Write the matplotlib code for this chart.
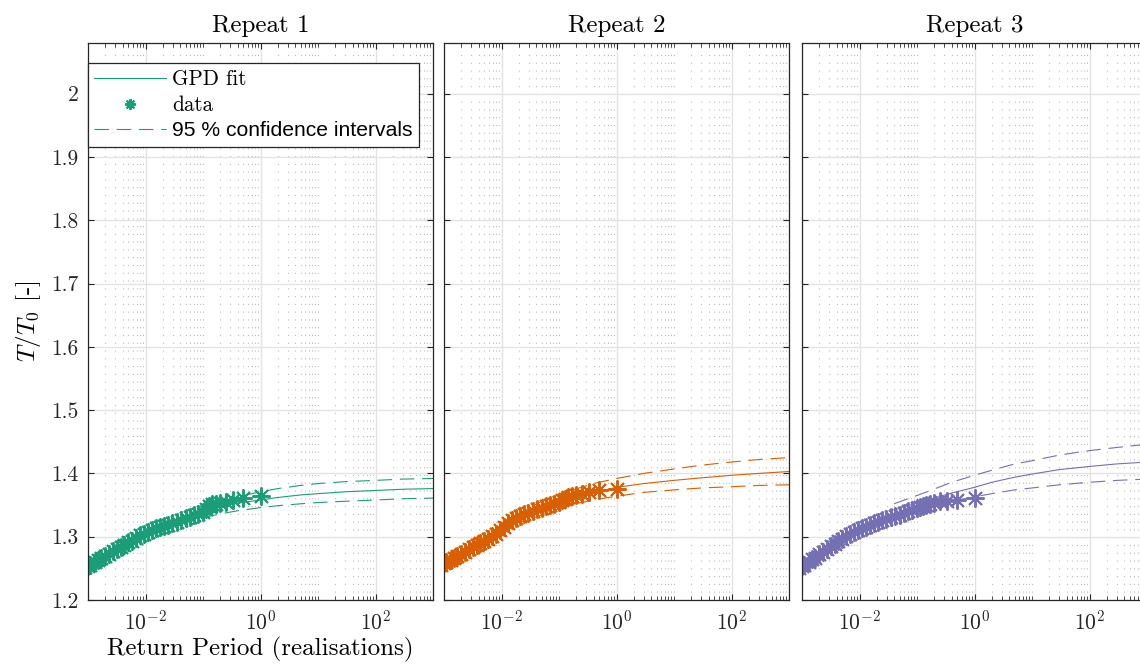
import matplotlib
matplotlib.use("Agg")
import matplotlib.pyplot as plt
import numpy as np
from matplotlib.ticker import FixedLocator, FuncFormatter, LogFormatterMathtext

plt.rcParams['font.family'] = 'cmr10'
plt.rcParams['mathtext.fontset'] = 'cm'
plt.rcParams['axes.formatter.use_mathtext'] = True

# return periods (realisations), shared by all repeats
return_period = [1, 0.5, 0.333, 0.25, 0.2, 0.167, 0.143, 0.125, 0.111, 0.1,
                 0.083, 0.071, 0.059, 0.05, 0.042, 0.035, 0.029, 0.025, 0.021, 0.018,
                 0.015, 0.013, 0.011, 0.0095, 0.008, 0.0068, 0.0058, 0.005, 0.0043, 0.0037,
                 0.0032, 0.0027, 0.0023, 0.002, 0.0017, 0.0015, 0.0013, 0.0011, 0.001, 0.0009]

data_rep1 = [1.365, 1.361, 1.358, 1.355, 1.353, 1.352, 1.351, 1.349, 1.343, 1.339,
             1.336, 1.334, 1.331, 1.329, 1.326, 1.324, 1.321, 1.319, 1.317, 1.315,
             1.313, 1.310, 1.308, 1.305, 1.302, 1.298, 1.294, 1.291, 1.287, 1.284,
             1.281, 1.277, 1.273, 1.270, 1.266, 1.263, 1.260, 1.256, 1.254, 1.252]
data_rep2 = [1.375, 1.373, 1.370, 1.368, 1.366, 1.364, 1.362, 1.360, 1.358, 1.355,
             1.352, 1.350, 1.348, 1.345, 1.343, 1.340, 1.338, 1.336, 1.333, 1.330,
             1.326, 1.321, 1.315, 1.310, 1.305, 1.301, 1.297, 1.294, 1.290, 1.287,
             1.284, 1.280, 1.276, 1.273, 1.270, 1.267, 1.263, 1.260, 1.258, 1.256]
data_rep3 = [1.361, 1.358, 1.357, 1.356, 1.354, 1.352, 1.350, 1.349, 1.347, 1.345,
             1.342, 1.340, 1.338, 1.335, 1.333, 1.331, 1.328, 1.326, 1.324, 1.322,
             1.319, 1.316, 1.314, 1.311, 1.308, 1.305, 1.301, 1.297, 1.293, 1.289,
             1.286, 1.281, 1.276, 1.272, 1.267, 1.264, 1.260, 1.256, 1.254, 1.251]

# GPD fits and 95 % confidence bounds
fit_x1 = [0.1, 0.2, 0.4, 1, 2, 5, 10, 30, 100, 300, 1000]
fit_rep1 = [1.338, 1.347, 1.353, 1.358, 1.362, 1.366, 1.368, 1.371, 1.373, 1.375, 1.376]
lo_rep1 = [1.330, 1.336, 1.341, 1.346, 1.349, 1.352, 1.354, 1.356, 1.358, 1.360, 1.361]
hi_rep1 = [1.345, 1.355, 1.363, 1.371, 1.376, 1.381, 1.384, 1.387, 1.389, 1.391, 1.392]

fit_x2 = [0.016, 0.03, 0.06, 0.15, 0.4, 1, 3, 10, 30, 100, 300, 1000]
fit_rep2 = [1.325, 1.337, 1.348, 1.360, 1.370, 1.378, 1.384, 1.389, 1.393, 1.397, 1.400, 1.403]
lo_rep2 = [1.320, 1.327, 1.337, 1.350, 1.358, 1.364, 1.370, 1.374, 1.377, 1.379, 1.381, 1.382]
hi_rep2 = [1.330, 1.346, 1.359, 1.372, 1.384, 1.392, 1.400, 1.407, 1.413, 1.418, 1.422, 1.425]

fit_x3 = [0.04, 0.07, 0.15, 0.4, 1, 2, 5, 10, 30, 100, 300, 1000]
fit_rep3 = [1.342, 1.349, 1.358, 1.369, 1.378, 1.386, 1.394, 1.399, 1.406, 1.411, 1.415, 1.418]
lo_rep3 = [1.333, 1.338, 1.346, 1.356, 1.363, 1.368, 1.374, 1.377, 1.382, 1.386, 1.389, 1.391]
hi_rep3 = [1.352, 1.360, 1.371, 1.386, 1.397, 1.405, 1.415, 1.420, 1.429, 1.436, 1.441, 1.446]

titles = ["Repeat 1", "Repeat 2", "Repeat 3"]
colors = ["#1b9e77", "#d95f02", "#7570b3"]

repeats = [
    (data_rep1, fit_x1, fit_rep1, lo_rep1, hi_rep1),
    (data_rep2, fit_x2, fit_rep2, lo_rep2, hi_rep2),
    (data_rep3, fit_x3, fit_rep3, lo_rep3, hi_rep3),
]

fig = plt.figure(figsize=(11.4, 6.7), dpi=100)
lefts = [88 / 1140, 444 / 1140, 802 / 1140]
width = 345 / 1140
bottom = 1 - 600 / 670
height = (600 - 43) / 670

minor_ticks = [m * 10.0 ** e for e in range(-4, 4) for m in range(1, 10)
               if not (m == 1 and e in (-2, 0, 2))]

star = (8, 2, 0)
dash = (0, (13, 7))

for i, (title, col, rep) in enumerate(zip(titles, colors, repeats)):
    ydata, fx, fy, flo, fhi = rep
    ax = fig.add_axes([lefts[i], bottom, width, height])
    ax.set_xscale('log')

    ax.plot(fx, fy, color=col, lw=0.8, label='GPD fit')
    ax.plot(return_period, ydata, linestyle='none', marker=star, ms=13,
            mew=1.4, color=col, label='data')
    ax.plot(fx, flo, color=col, lw=0.8, linestyle=dash,
            label='95 % confidence intervals')
    ax.plot(fx, fhi, color=col, lw=0.8, linestyle=dash)

    ax.set_xlim(1e-3, 1e3)
    ax.set_ylim(1.2, 2.08)
    ax.xaxis.set_major_locator(FixedLocator([1e-2, 1, 1e2]))
    ax.xaxis.set_minor_locator(FixedLocator(minor_ticks))
    ax.xaxis.set_major_formatter(LogFormatterMathtext())
    ax.xaxis.set_minor_formatter(FuncFormatter(lambda v, p: ''))
    ax.set_yticks(np.arange(1.2, 2.01, 0.1))
    if i == 0:
        ax.yaxis.set_major_formatter(FuncFormatter(lambda v, p: f'{v:g}'))
    else:
        ax.set_yticklabels([])

    ax.grid(True, which='major', color='#e3e3e3', lw=1.0)
    ax.grid(True, which='minor', axis='x', color='#bcbcbc', lw=0.8,
            linestyle=(0, (1, 6)))
    ax.set_axisbelow(True)
    ax.tick_params(which='both', direction='in', top=True, right=True,
                   colors='#262626', labelsize=15.5, pad=7)
    ax.tick_params(which='major', length=4.5, width=0.8)
    ax.tick_params(which='minor', length=2.8, width=0.6)
    for s in ax.spines.values():
        s.set_color('#262626')
        s.set_linewidth(0.9)

    ax.set_title(title, fontsize=18, pad=8)

    if i == 0:
        ax.set_ylabel(r'$T/T_0$ [-]', fontsize=18, labelpad=6)
        ax.set_xlabel('Return Period (realisations)', fontsize=18, labelpad=2)
        leg = ax.legend(loc='upper left', bbox_to_anchor=(0, 0.9636),
                        borderaxespad=0, fontsize=15.2, handlelength=3.4,
                        fancybox=False, framealpha=1, edgecolor='#262626',
                        borderpad=0.3, labelspacing=0.3, handletextpad=0.3,
                        markerscale=0.6)
        leg.get_frame().set_linewidth(0.9)
        leg.get_texts()[2].set_fontfamily('Liberation Sans')

fig.savefig('out.png', dpi=100)
